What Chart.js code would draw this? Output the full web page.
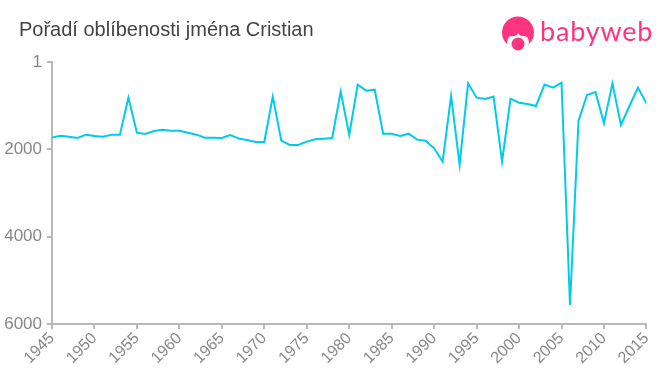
<!DOCTYPE html>
<html lang="cs">
<head>
<meta charset="UTF-8">
<title>Pořadí oblíbenosti jména Cristian</title>
<script src="https://cdn.jsdelivr.net/npm/chart.js"></script>
<style>
    html, body { margin: 0; padding: 0; background: #fff; }
    #wrap { position: relative; width: 660px; height: 375px; overflow: hidden; }
    #title { position: absolute; left: 19px; top: 18px; font: 20px "Liberation Sans", Arial, sans-serif; color: #444; white-space: nowrap; }
    #logo { position: absolute; left: 500px; top: 15px; }
    #brand { position: absolute; left: 540px; top: 14px; font: 27px Lato, sans-serif; color: #ff3480; white-space: nowrap; letter-spacing: 0.8px; }
</style>
</head>
<body>
<div id="wrap">
    <canvas id="chart" width="660" height="375"></canvas>
    <div id="title">Pořadí oblíbenosti jména Cristian</div>
    <svg id="logo" width="38" height="38" viewBox="0 0 38 38">
        <circle cx="18" cy="17.5" r="16" fill="#ff3480"/>
        <path d="M7 27 Q8 20 13 21 Q16 22 18 18 Q20 22 23 21 Q28 20 29 27 Q29 36 18 36 Q7 36 7 27Z" fill="#fff"/>
        <circle cx="18" cy="29" r="6.5" fill="#ff3480"/>
    </svg>
    <div id="brand">babyweb</div>
</div>
<script>
const roky = [1945,1946,1947,1948,1949,1950,1951,1952,1953,1954,1955,1956,1957,1958,1959,1960,1961,1962,1963,1964,
    1965,1966,1967,1968,1969,1970,1971,1972,1973,1974,1975,1976,1977,1978,1979,1980,1981,1982,1983,1984,
    1985,1986,1987,1988,1989,1990,1991,1992,1993,1994,1995,1996,1997,1998,1999,2000,2001,2002,2003,2004,
    2005,2006,2007,2008,2009,2010,2011,2012,2013,2014,2015];
const poradi = [1733,1688,1710,1740,1665,1694,1710,1665,1665,817,1619,1650,1580,1550,1573,1573,1619,1665,1733,1733,
    1740,1672,1756,1786,1832,1832,794,1802,1901,1901,1825,1771,1756,1740,680,1672,519,657,634,1642,
    1642,1694,1642,1779,1802,1977,2283,779,2350,489,817,847,794,2283,840,932,962,1008,519,588,
    473,5565,1351,756,687,1404,489,1443,1008,588,946];
const yTicks = [1,2000,4000,6000];

const seda = '#b8b8b8';

new Chart(document.getElementById('chart'), {
    type: 'line',
    data: {
        datasets: [{
            data: roky.map((r, i) => ({ x: r, y: poradi[i] })),
            borderColor: '#00cbe8',
            borderWidth: 2,
            pointRadius: 0,
            tension: 0,
            fill: false
        }]
    },
    options: {
        responsive: false,
        animation: false,
        layout: { padding: { top: 62, right: 12, left: 0, bottom: 0 } },
        plugins: { legend: { display: false }, title: { display: false }, tooltip: { enabled: false } },
        scales: {
            x: {
                type: 'linear',
                min: 1945,
                max: 2015,
                afterBuildTicks: s => { s.ticks = roky.filter(r => r % 5 === 0).map(r => ({ value: r })); },
                afterFit: s => { s.height = 51; },
                grid: { drawOnChartArea: false, color: seda, tickLength: 5, lineWidth: 2 },
                border: { color: seda, width: 2 },
                ticks: {
                    color: '#888',
                    font: { family: '"Liberation Sans", Arial, sans-serif', size: 16 },
                    minRotation: 45,
                    maxRotation: 45,
                    autoSkip: false,
                    padding: 0,
                    callback: v => String(v)
                }
            },
            y: {
                reverse: true,
                min: 1,
                max: 6000,
                afterBuildTicks: s => { s.ticks = yTicks.map(v => ({ value: v })); },
                afterFit: s => { s.width = 52; },
                grid: { drawOnChartArea: false, color: seda, tickLength: 5, lineWidth: 2 },
                border: { color: seda, width: 2 },
                ticks: { color: '#888', font: { family: '"Liberation Sans", Arial, sans-serif', size: 17 }, padding: 5, callback: v => String(v) }
            }
        }
    }
});
</script>
</body>
</html>
